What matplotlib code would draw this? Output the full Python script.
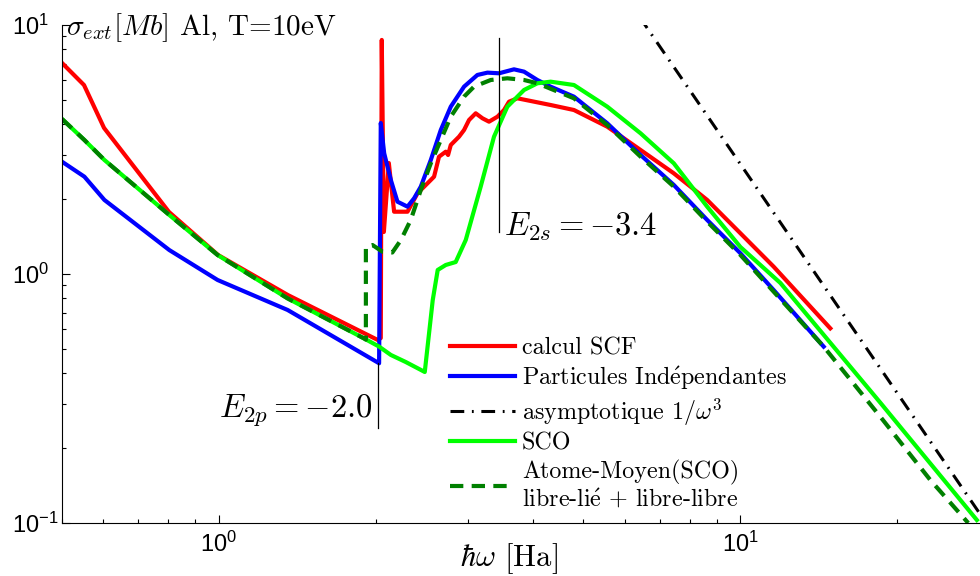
import matplotlib
matplotlib.use('Agg')
import matplotlib.pyplot as plt
import matplotlib.ticker as mtick

plt.rcParams['font.family'] = ['Liberation Sans', 'DejaVu Sans']
plt.rcParams['mathtext.fontset'] = 'cm'

# calcul SCF (rouge)
scf_x = [0.50, 0.551, 0.602, 0.802, 0.996, 1.356, 2.017, 2.043, 2.052, 2.071, 2.117, 2.167,
         2.299, 2.403, 2.511, 2.585, 2.642, 2.722, 2.750, 2.783, 2.886, 2.951, 3.017, 3.107,
         3.201, 3.295, 3.420, 3.521, 3.599, 3.735, 4.325, 4.794, 5.554, 6.434, 7.451, 8.634,
         10.0, 11.58, 14.87]
scf_y = [7.04, 5.74, 3.86, 1.774, 1.192, 0.823, 0.543, 0.553, 8.71, 1.475, 2.79, 1.779,
         1.779, 2.110, 2.313, 2.459, 2.958, 3.099, 3.006, 3.297, 3.559, 3.787, 4.155, 4.419,
         4.220, 4.090, 4.283, 4.556, 4.920, 5.077, 4.772, 4.556, 3.905, 3.148, 2.537, 1.983,
         1.457, 1.070, 0.605]

# particules independantes (bleu)
pi_x = [0.50, 0.552, 0.603, 0.803, 0.994, 1.354, 2.028, 2.043, 2.074, 2.136, 2.199, 2.299,
        2.367, 2.438, 2.548, 2.663, 2.783, 2.951, 3.130, 3.272, 3.444, 3.679, 3.846, 4.079,
        4.325, 4.794, 5.554, 6.434, 7.451, 8.634, 10.0, 11.58, 14.44]
pi_y = [2.825, 2.459, 1.983, 1.248, 0.946, 0.717, 0.438, 4.04, 3.053, 2.385, 1.952, 1.864,
        2.014, 2.243, 2.870, 3.787, 4.699, 5.654, 6.300, 6.437, 6.398, 6.637, 6.496, 6.014,
        5.654, 5.154, 4.029, 3.006, 2.278, 1.648, 1.211, 0.862, 0.511]

# asymptotique 1/w^3
asym_x = [6.4, 30.0]
asym_y = [10.8, 0.096]

# SCO (vert clair)
sco_x = [0.50, 0.552, 0.603, 0.803, 0.994, 1.354, 1.898, 2.028, 2.136, 2.282, 2.438, 2.481,
         2.570, 2.627, 2.722, 2.844, 2.973, 3.176, 3.368, 3.573, 3.846, 4.079, 4.325, 4.794,
         5.554, 6.434, 7.451, 8.634, 10.0, 11.93, 18.55, 28.4]
sco_y = [4.194, 3.452, 2.870, 1.726, 1.192, 0.798, 0.551, 0.511, 0.473, 0.443, 0.412, 0.404,
         0.786, 1.038, 1.087, 1.117, 1.369, 2.243, 3.559, 4.699, 5.483, 5.833, 5.921, 5.741,
         4.699, 3.673, 2.783, 1.864, 1.283, 0.920, 0.304, 0.1028]

# Atome-Moyen(SCO) (vert fonce, tirets)
am_x = [0.50, 0.552, 0.603, 0.803, 0.994, 1.354, 1.898, 1.913, 1.913, 1.970, 2.058, 2.15,
        2.233, 2.332, 2.438, 2.548, 2.663, 2.783, 2.951, 3.084, 3.320, 3.573, 3.846, 4.079,
        4.794, 5.554, 6.434, 7.451, 8.634, 10.0, 11.58, 14.44, 18.55, 23.12, 27.34]
am_y = [4.194, 3.452, 2.870, 1.726, 1.192, 0.798, 0.551, 0.545, 1.288, 1.307, 1.229, 1.22,
        1.369, 1.648, 2.175, 2.783, 3.452, 4.284, 5.154, 5.654, 6.014, 6.109, 6.014, 5.833,
        5.077, 3.966, 2.959, 2.243, 1.623, 1.192, 0.849, 0.511, 0.267, 0.1489, 0.1]

# seuils E2p et E2s
e2p_x = [2.02, 2.02]
e2p_y = [0.24, 0.44]
e2s_x = [3.44, 3.44]
e2s_y = [1.47, 8.87]

fig = plt.figure(figsize=(9.8, 5.76), dpi=100)
ax = fig.add_axes([62/980, 53/576, 918/980, 498/576])

l1, = ax.plot(scf_x, scf_y, color='#ff0000', lw=3)
l2, = ax.plot(pi_x, pi_y, color='#0000ff', lw=3)
l3, = ax.plot(asym_x, asym_y, color='black', lw=2.2, dashes=(4.5, 2.5, 0.6, 2.5))
l4, = ax.plot(sco_x, sco_y, color='#00ff00', lw=3)
l5, = ax.plot(am_x, am_y, color='#008000', lw=3, dashes=(3.2, 2))

ax.plot(e2p_x, e2p_y, color='black', lw=0.9, zorder=5)
ax.plot(e2s_x, e2s_y, color='black', lw=0.9, zorder=5)

ax.set_xscale('log')
ax.set_yscale('log')
ax.set_xlim(0.5, 28.8)
ax.set_ylim(0.1, 10)

ax.spines['top'].set_visible(False)
ax.spines['right'].set_visible(False)
ax.tick_params(which='both', direction='in', top=False, right=False, width=0.8)
ax.tick_params(which='major', length=6, labelsize=17)
ax.tick_params(which='minor', length=3)
ax.tick_params(axis='x', pad=6)
ax.tick_params(axis='y', pad=36)
ax.xaxis.set_minor_formatter(mtick.NullFormatter())
ax.yaxis.set_minor_formatter(mtick.NullFormatter())
# labels de l'axe y alignes a gauche comme dans matlab
for lbl in ax.get_yticklabels():
    lbl.set_horizontalalignment('left')

ax.text(0.0044, 0.98, r'$\sigma_{ext}[Mb]$ Al, T=10eV', transform=ax.transAxes,
        family='cmr10', fontsize=21, va='baseline', ha='left')
ax.text(3.516, 1.434, r'$E_{2s}=-3.4$', fontsize=23.5, va='baseline', ha='left')
ax.text(1.0, 0.267, r'$E_{2p}=-2.0$', fontsize=23.5, va='baseline', ha='left')

ax.set_xlabel(r'$\hbar\omega$ [Ha]', family='cmr10', fontsize=22)
ax.xaxis.set_label_coords(0.487, -0.0863)
ax.xaxis.label.set_va('baseline')

labels = ['calcul SCF',
          r'Particules Ind$\mathrm{\acute{e}}$pendantes',
          r'asymptotique $1/\omega^3$',
          'SCO',
          'Atome-Moyen(SCO)\n' + r'libre-li$\mathrm{\acute{e}}$ + libre-libre']
ax.legend([l1, l2, l3, l4, l5], labels, loc='upper left',
          bbox_to_anchor=(450/980, (576-337)/576), bbox_transform=fig.transFigure,
          frameon=False, prop={'family': 'cmr10', 'size': 17.3},
          handlelength=2.7, handletextpad=0.3, labelspacing=0.2,
          borderpad=0, borderaxespad=0)

plt.savefig('out.png', dpi=100)
